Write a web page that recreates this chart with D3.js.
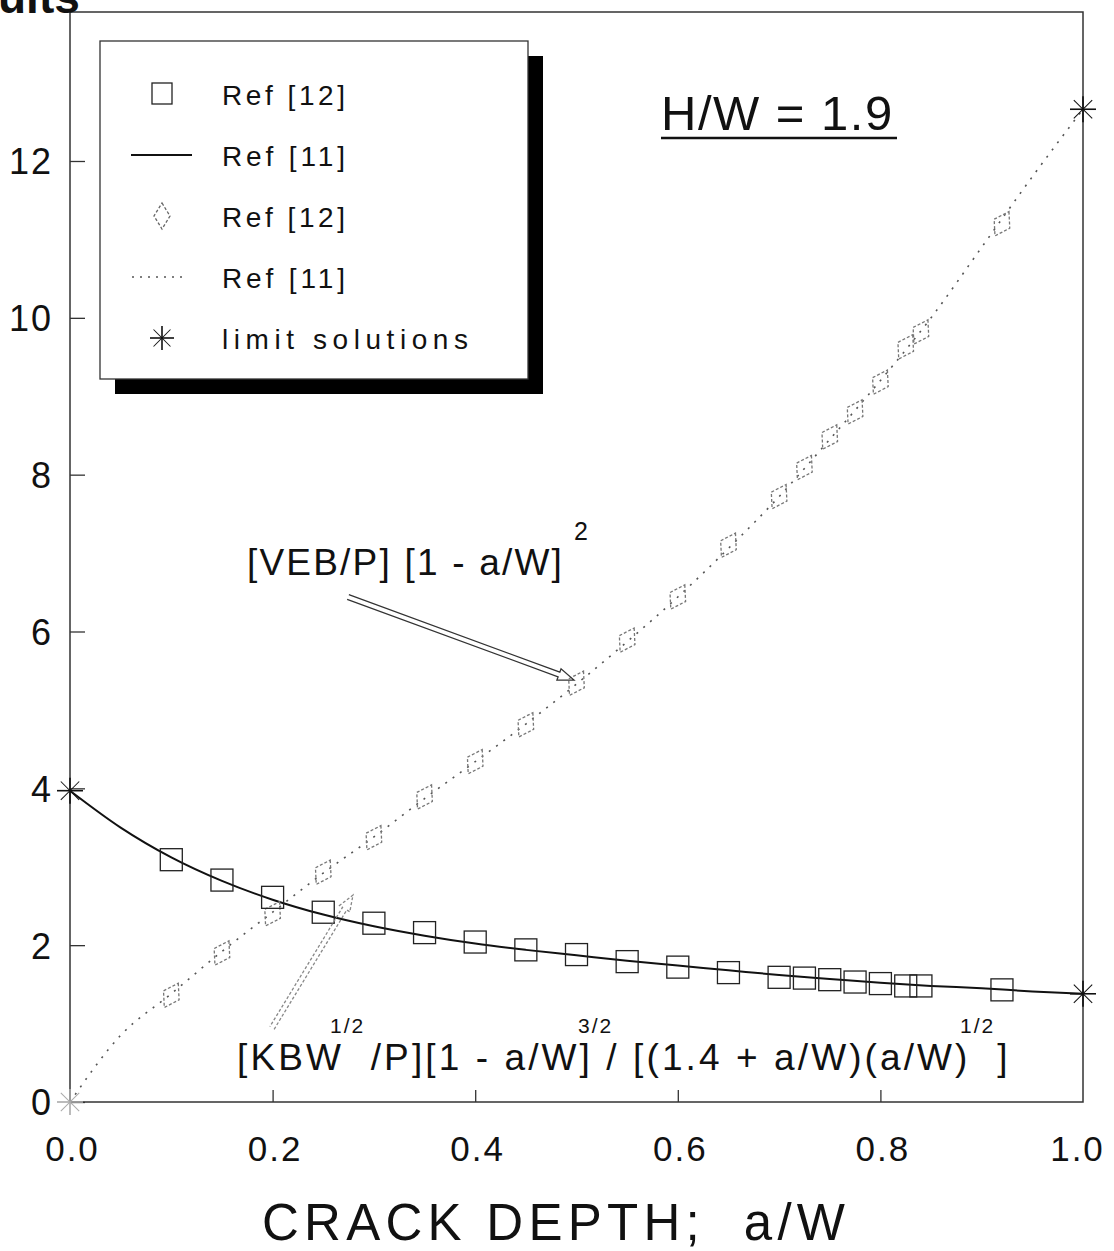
<!DOCTYPE html>
<html>
<head>
<meta charset="utf-8">
<script src="https://cdn.jsdelivr.net/npm/d3@7"></script>
<style>
  body { margin: 0; background: #fff; }
  text { font-family: "Liberation Sans", Arial, sans-serif; fill: #111; }
</style>
</head>
<body>
<svg id="chart" width="1114" height="1251"></svg>
<script>
    // crack depth positions used by the FE results (Ref [12])
    var feX = [0.1, 0.15, 0.2, 0.25, 0.3, 0.35, 0.4, 0.45, 0.5, 0.55, 0.6, 0.65,
        0.7, 0.725, 0.75, 0.775, 0.8, 0.825, 0.84, 0.92];
    // KBW^1/2/P ... normalised SIF, squares
    var kSquares = [3.09, 2.83, 2.61, 2.42, 2.28, 2.16, 2.04, 1.94, 1.88, 1.79, 1.72, 1.65,
        1.59, 1.58, 1.56, 1.53, 1.51, 1.48, 1.48, 1.43];
    // VEB/P [1 - a/W]^2 normalised displacement, diamonds
    var vDiamonds = [1.36, 1.9, 2.4, 2.93, 3.37, 3.89, 4.34, 4.81, 5.34, 5.89, 6.44, 7.1,
        7.72, 8.09, 8.48, 8.8, 9.18, 9.63, 9.82, 11.2];

    // Ref [11] curves
    var refX = [0, 0.05, 0.1, 0.15, 0.2, 0.25, 0.3, 0.35, 0.4, 0.45, 0.5, 0.55, 0.6,
        0.65, 0.7, 0.75, 0.8, 0.85, 0.9, 0.95, 1.0];
    var kCurve = [3.97, 3.5, 3.12, 2.82, 2.58, 2.39, 2.24, 2.12, 2.02, 1.94, 1.87, 1.8, 1.74,
        1.68, 1.62, 1.57, 1.52, 1.48, 1.45, 1.41, 1.38];
    var vCurve = [0, 0.85, 1.38, 1.92, 2.42, 2.92, 3.38, 3.87, 4.34, 4.82, 5.33, 5.87, 6.44,
        7.06, 7.72, 8.45, 9.2, 10.0, 10.9, 11.8, 12.66];

    // limit solutions
    var limitX = [0, 0, 1, 1];
    var limitY = [0, 3.97, 1.38, 12.66];

    var xTicks = [0, 0.2, 0.4, 0.6, 0.8, 1.0];
    var yTicks = [0, 2, 4, 6, 8, 10, 12];

    var legendLabels = ['Ref [12]', 'Ref [11]', 'Ref [12]', 'Ref [11]', 'limit solutions'];

    var svg = d3.select('#chart');

    var x = d3.scaleLinear().domain([0, 1]).range([70, 1083]);
    var y = d3.scaleLinear().domain([0, 13.9]).range([1102, 12]);

    // frame
    svg.append('rect')
        .attr('x', x(0)).attr('y', y(13.9))
        .attr('width', x(1) - x(0)).attr('height', y(0) - y(13.9))
        .attr('fill', 'none').attr('stroke', '#333').attr('stroke-width', 1.5);

    // axes with inward ticks
    var yAxis = d3.axisLeft(y).tickValues(yTicks).tickSize(-15).tickPadding(17)
        .tickFormat(d3.format('d'));
    var gy = svg.append('g').attr('transform', 'translate(' + x(0) + ',0)').call(yAxis);
    gy.select('.domain').remove();
    gy.selectAll('line').attr('stroke', '#333').attr('stroke-width', 1.3);
    gy.selectAll('text').style('font-size', '36px').attr('letter-spacing', 2)
        .attr('dy', '0.36em');

    var xAxis = d3.axisBottom(x).tickValues(xTicks).tickSize(-12).tickPadding(34)
        .tickFormat(d3.format('.1f'));
    var gx = svg.append('g').attr('transform', 'translate(0,' + y(0) + ')').call(xAxis);
    gx.select('.domain').remove();
    gx.selectAll('line').attr('stroke', '#333').attr('stroke-width', 1.3)
        .attr('display', function (d) { return (d == 0 || d == 1) ? 'none' : null; });
    gx.selectAll('text').style('font-size', '35px').attr('letter-spacing', 2)
        .attr('dx', function (d) { return d == 1 ? -6 : 2; });

    svg.append('text')
        .attr('x', 262).attr('y', 1240)
        .attr('textLength', 583).attr('lengthAdjust', 'spacing')
        .style('font-size', '51px')
        .text('CRACK DEPTH;\u00a0\u00a0a/W');

    // clipped title fragment at top left
    svg.append('text')
        .attr('x', -2).attr('y', 13)
        .style('font-size', '46px').style('font-weight', 'bold')
        .text('ults');

    // Ref [11] lines
    var line = d3.line()
        .x(function (d) { return x(d[0]); })
        .y(function (d) { return y(d[1]); })
        .curve(d3.curveMonotoneX);

    svg.append('path')
        .datum(d3.zip(refX, vCurve))
        .attr('d', line)
        .attr('fill', 'none').attr('stroke', '#555').attr('stroke-width', 1.6)
        .attr('stroke-dasharray', '2,7');

    svg.append('path')
        .datum(d3.zip(refX, kCurve))
        .attr('d', line)
        .attr('fill', 'none').attr('stroke', '#111').attr('stroke-width', 2);

    // diamonds
    function diamond(w, h) {
        return 'M0,' + (-h / 2) + 'L' + (w / 2) + ',0L0,' + (h / 2) + 'L' + (-w / 2) + ',0Z';
    }
    svg.append('g').selectAll('path')
        .data(d3.zip(feX, vDiamonds))
        .enter().append('path')
        .attr('d', diamond(18, 28))
        .attr('transform', function (d) {
            return 'translate(' + x(d[0]) + ',' + y(d[1]) + ') rotate(30)';
        })
        .attr('fill', 'none').attr('stroke', '#777').attr('stroke-width', 1.3)
        .attr('stroke-dasharray', '3,2');

    // squares
    svg.append('g').selectAll('rect')
        .data(d3.zip(feX, kSquares))
        .enter().append('rect')
        .attr('x', function (d) { return x(d[0]) - 11; })
        .attr('y', function (d) { return y(d[1]) - 11; })
        .attr('width', 22).attr('height', 22)
        .attr('fill', 'none').attr('stroke', '#222').attr('stroke-width', 1.3);

    // asterisks
    function star(g, r, col) {
        [0, 45, 90, 135].forEach(function (a) {
            g.append('line')
                .attr('x1', -r).attr('x2', r).attr('y1', 0).attr('y2', 0)
                .attr('transform', 'rotate(' + a + ')')
                .attr('stroke', col).attr('stroke-width', a % 90 ? 1 : 1.6);
        });
    }
    d3.zip(limitX, limitY).forEach(function (d, i) {
        var g = svg.append('g').attr('transform', 'translate(' + x(d[0]) + ',' + y(d[1]) + ')');
        star(g, 13, i == 0 ? '#aaa' : '#111');
    });

    // H/W label
    svg.append('text')
        .attr('x', 661).attr('y', 130)
        .style('font-size', '49px').attr('letter-spacing', 1.5)
        .text('H/W = 1.9');
    svg.append('line')
        .attr('x1', 661).attr('x2', 897).attr('y1', 138).attr('y2', 138)
        .attr('stroke', '#111').attr('stroke-width', 2.5);

    // annotations
    var ann = svg.append('g');
    ann.append('text').attr('x', 247).attr('y', 575)
        .style('font-size', '37px').attr('letter-spacing', 2.2)
        .text('[VEB/P] [1 - a/W]');
    ann.append('text').attr('x', 574).attr('y', 540)
        .style('font-size', '25px').text('2');

    ann.append('text').attr('x', 237).attr('y', 1070)
        .style('font-size', '37px').attr('letter-spacing', 3.1)
        .text('[KBW\u00a0\u00a0/P][1 - a/W] / [(1.4 + a/W)(a/W)\u00a0\u00a0]');
    ann.append('text').attr('x', 330).attr('y', 1033)
        .style('font-size', '21px').attr('letter-spacing', 2).text('1/2');
    ann.append('text').attr('x', 578).attr('y', 1033)
        .style('font-size', '21px').attr('letter-spacing', 2).text('3/2');
    ann.append('text').attr('x', 960).attr('y', 1033)
        .style('font-size', '21px').attr('letter-spacing', 2).text('1/2');

    // hollow arrows
    function arrow(x1, y1, x2, y2, col, dash) {
        var dx = x2 - x1, dy = y2 - y1, len = Math.sqrt(dx * dx + dy * dy);
        var ux = dx / len, uy = dy / len, nx = -uy, ny = ux;
        var head = 16, half = 2.5, wing = 6;
        var bx = x2 - ux * head, by = y2 - uy * head;
        var pts = [
            [x1 + nx * half, y1 + ny * half],
            [bx + nx * half, by + ny * half],
            [bx + nx * wing, by + ny * wing],
            [x2, y2],
            [bx - nx * wing, by - ny * wing],
            [bx - nx * half, by - ny * half],
            [x1 - nx * half, y1 - ny * half]
        ];
        ann.append('path')
            .attr('d', 'M' + pts.join('L'))
            .attr('fill', 'none').attr('stroke', col).attr('stroke-width', 1.3)
            .attr('stroke-dasharray', dash);
    }
    arrow(348, 597, 574, 680, '#333', null);
    arrow(272, 1028, 353, 895, '#888', '3,2');

    // legend
    var legend = svg.append('g').attr('class', 'legend');
    legend.append('rect')
        .attr('x', 115).attr('y', 56).attr('width', 428).attr('height', 338)
        .attr('fill', '#000');
    legend.append('rect')
        .attr('x', 100).attr('y', 41).attr('width', 428).attr('height', 338)
        .attr('fill', '#fff').attr('stroke', '#333').attr('stroke-width', 1.3);

    var item = legend.selectAll('.item')
        .data(legendLabels)
        .enter().append('g')
        .attr('class', 'item')
        .attr('transform', function (d, i) { return 'translate(0,' + (94 + i * 61) + ')'; });

    item.append('text')
        .attr('x', 222).attr('y', 11)
        .style('font-size', '28px')
        .attr('textLength', function (d) { return d.length > 8 ? 246 : 123; })
        .attr('lengthAdjust', 'spacing')
        .text(function (d) { return d; });

    item.each(function (d, i) {
        var g = d3.select(this);
        if (i == 0) {
            g.append('rect').attr('x', 152).attr('y', -11).attr('width', 20).attr('height', 21)
                .attr('fill', 'none').attr('stroke', '#222').attr('stroke-width', 1.3);
        } else if (i == 1) {
            g.append('line').attr('x1', 131).attr('x2', 192).attr('y1', 0).attr('y2', 0)
                .attr('stroke', '#111').attr('stroke-width', 2);
        } else if (i == 2) {
            g.append('path').attr('d', diamond(16, 26))
                .attr('transform', 'translate(162,0)')
                .attr('fill', 'none').attr('stroke', '#666').attr('stroke-width', 1.3)
                .attr('stroke-dasharray', '3,2');
        } else if (i == 3) {
            g.append('line').attr('x1', 132).attr('x2', 188).attr('y1', 0).attr('y2', 0)
                .attr('stroke', '#555').attr('stroke-width', 1.3).attr('stroke-dasharray', '2,6');
        } else {
            var s = g.append('g').attr('transform', 'translate(162,0)');
            star(s, 12, '#111');
        }
    });
</script>
</body>
</html>
